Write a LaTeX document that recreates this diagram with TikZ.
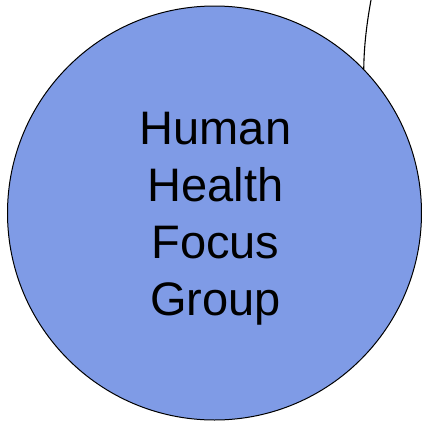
\documentclass[tikz,border=0pt]{standalone}
\usepackage{fontspec}
\setmainfont{Liberation Sans}
\definecolor{focusblue}{RGB}{127,155,230}
\begin{document}
\begin{tikzpicture}[x=1pt,y=-1pt,
  focus/.style={circle,draw=black,line width=1pt,fill=focusblue,minimum size=414pt,inner sep=0pt},
  focustext/.style={align=center,font=\fontsize{47}{57}\selectfont},
  link/.style={draw=black,line width=1.1pt}]
\useasboundingbox (0,0) rectangle (422,424);
\node[focus] (c) at (214.5,213) {};
\node[focustext] (t) at (215.5,219) {Human\\Health\\Focus\\Group};
\coordinate (top) at (371,0);
\draw[link] (top) .. controls (367,22) and (364,45) .. (c.44.5);
\end{tikzpicture}
\end{document}
